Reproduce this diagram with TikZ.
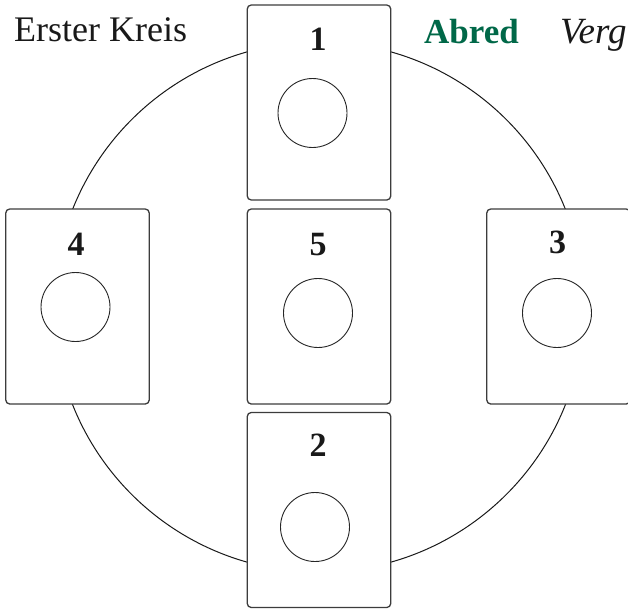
\documentclass[tikz,border=0pt]{standalone}
\usepackage{fontspec}
\setmainfont{Liberation Serif}
\definecolor{abredgreen}{RGB}{0,104,72}
\definecolor{cardline}{RGB}{60,60,60}
\begin{document}
\begin{tikzpicture}[x=1pt,y=-1pt,
  card/.style={rectangle, rounded corners=4pt, draw=cardline, line width=1.3pt, fill=white,
    minimum width=143.5pt, minimum height=195pt, inner sep=0pt},
  spot/.style={circle, draw=black!85, line width=0.9pt, minimum size=69pt, inner sep=0pt},
  num/.style={anchor=base, inner sep=0pt, font=\fontsize{34}{40}\selectfont\bfseries, text=black!90},
  head/.style={anchor=base west, inner sep=0pt, font=\fontsize{36}{42}\selectfont, text=black!90},
  ring/.style={circle, draw=black!90, line width=1pt, minimum size=530pt, inner sep=0pt}]
\useasboundingbox (0,0) rectangle (628,608);
\node[ring] (bigring) at (319,307) {};
% cards
\node[card] (c1) at (319,102.5) {};
\node[card] (c4) at (77.5,306.5) {};
\node[card] (c5) at (319,306.5) {};
\node[card] (c3) at (558.5,306.5) {};
\node[card] (c2) at (319,510) {};
% circles
\node[spot] (s1) at (312.5,113) {};
\node[spot] (s4) at (75.5,307) {};
\node[spot] (s5) at (318,313) {};
\node[spot] (s3) at (557,313) {};
\node[spot] (s2) at (315,527) {};
% numbers
\node[num] (n1) at (318,50) {1};
\node[num] (n4) at (76,255) {4};
\node[num] (n5) at (318,255) {5};
\node[num] (n3) at (557.5,253.5) {3};
\node[num] (n2) at (318,456.5) {2};
% headings
\node[head] (t1) at (14,41.7) {Erster Kreis};
\node[head, font=\fontsize{35}{42}\selectfont\bfseries, text=abredgreen] (t2) at (424,43) {Abred};
\node[head, font=\fontsize{37}{42}\selectfont\itshape] (t3) at (560,43) {Verg};
\end{tikzpicture}
\end{document}
